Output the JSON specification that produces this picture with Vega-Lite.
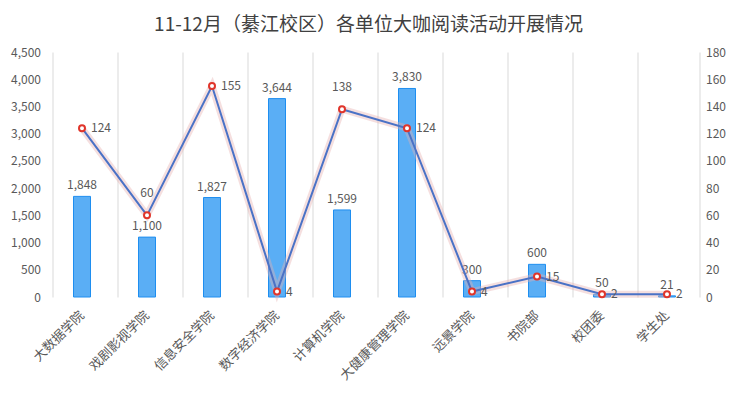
{
  "$schema": "https://vega.github.io/schema/vega-lite/v6.json",
  "width": 650,
  "height": 245,
  "autosize": {"type": "none"},
  "padding": {"left": 49.5, "top": 52, "right": 38.5, "bottom": 104},
  "background": "white",
  "config": {
    "font": "Noto Sans CJK SC",
    "view": {"stroke": null},
    "axis": {"labelFont": "Noto Sans CJK SC", "labelColor": "#595959", "labelFontSize": 12}
  },
  "title": {
    "text": "11-12月（綦江校区）各单位大咖阅读活动开展情况",
    "fontSize": 19,
    "fontWeight": "normal",
    "color": "#404040",
    "font": "Noto Sans CJK SC",
    "anchor": "middle",
    "frame": "group",
    "offset": 11,
    "dx": -6
  },
  "data": {
    "values": [
      {"unit": "大数据学院", "count": 1848, "sessions": 124},
      {"unit": "戏剧影视学院", "count": 1100, "sessions": 60},
      {"unit": "信息安全学院", "count": 1827, "sessions": 155},
      {"unit": "数字经济学院", "count": 3644, "sessions": 4},
      {"unit": "计算机学院", "count": 1599, "sessions": 138},
      {"unit": "大健康管理学院", "count": 3830, "sessions": 124},
      {"unit": "远景学院", "count": 300, "sessions": 4},
      {"unit": "书院部", "count": 600, "sessions": 15},
      {"unit": "校团委", "count": 50, "sessions": 2},
      {"unit": "学生处", "count": 21, "sessions": 2}
    ]
  },
  "encoding": {
    "x": {
      "field": "unit",
      "type": "nominal",
      "sort": null,
      "title": null,
      "axis": {
        "labelAngle": -45,
        "labelAlign": "right",
        "labelBaseline": "middle",
        "labelFontSize": 13,
        "labelPadding": 16,
        "ticks": false,
        "domain": false,
        "grid": true,
        "gridColor": "#d9d9d9",
        "bandPosition": 0
      }
    }
  },
  "layer": [
    {
      "encoding": {
        "y": {
          "field": "count",
          "type": "quantitative",
          "scale": {"domain": [0, 4500]},
          "title": null,
          "axis": {
            "orient": "left",
            "values": [0, 500, 1000, 1500, 2000, 2500, 3000, 3500, 4000, 4500],
            "labelExpr": "format(datum.value, ',.0f')",
            "grid": false,
            "domain": false,
            "ticks": false,
            "labelPadding": 9
          }
        }
      },
      "layer": [
        {
          "mark": {"type": "bar", "size": 17, "fill": "#5aaef5", "stroke": "#1e8ef0", "strokeWidth": 1}
        },
        {
          "mark": {"type": "text", "dy": -11, "fontSize": 12, "color": "#595959", "baseline": "middle"},
          "encoding": {"text": {"field": "count", "type": "quantitative", "format": ",.0f"}}
        }
      ]
    },
    {
      "encoding": {
        "y": {
          "field": "sessions",
          "type": "quantitative",
          "scale": {"domain": [0, 180]},
          "title": null,
          "axis": {
            "orient": "right",
            "values": [0, 20, 40, 60, 80, 100, 120, 140, 160, 180],
            "grid": false,
            "domain": true,
            "domainColor": "#d9d9d9",
            "ticks": false,
            "labelPadding": 6
          }
        }
      },
      "layer": [
        {
          "mark": {"type": "line", "color": "#e6aeae", "strokeWidth": 7, "opacity": 0.4}
        },
        {
          "mark": {"type": "line", "color": "#4a72c6", "strokeWidth": 2}
        },
        {
          "mark": {"type": "point", "shape": "circle", "size": 36, "filled": true, "fill": "white", "stroke": "#e0352b", "strokeWidth": 2, "opacity": 1}
        },
        {
          "transform": [{"filter": {"not": {"field": "unit", "oneOf": ["戏剧影视学院", "计算机学院"]}}}],
          "mark": {"type": "text", "align": "left", "dx": 9, "fontSize": 12, "color": "#595959", "baseline": "middle"},
          "encoding": {"text": {"field": "sessions", "type": "quantitative"}}
        },
        {
          "transform": [{"filter": {"field": "unit", "oneOf": ["戏剧影视学院", "计算机学院"]}}],
          "mark": {"type": "text", "align": "center", "dy": -22, "dx": 0, "fontSize": 12, "color": "#595959", "baseline": "middle"},
          "encoding": {"text": {"field": "sessions", "type": "quantitative"}}
        }
      ]
    }
  ],
  "resolve": {"scale": {"y": "independent"}}
}
